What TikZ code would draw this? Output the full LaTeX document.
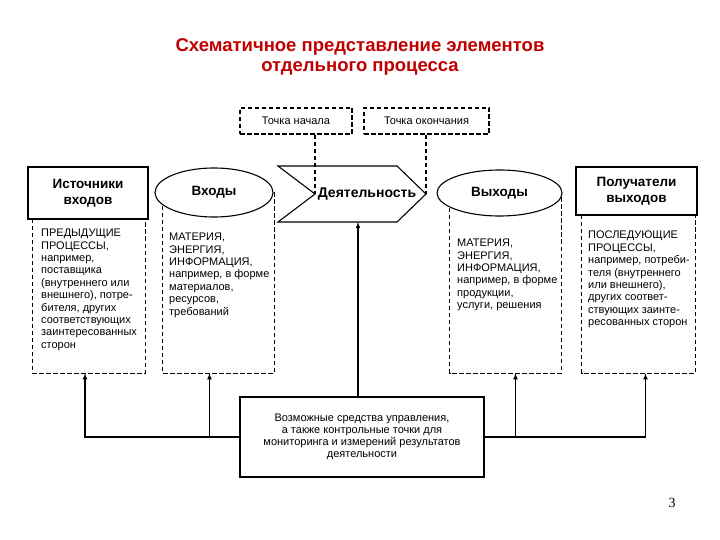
\documentclass[tikz,border=0pt]{standalone}
\usepackage{fontspec}
\setmainfont{Liberation Sans}
\newfontfamily\numfont{Liberation Serif}
\usetikzlibrary{shapes.geometric}
\definecolor{titlered}{RGB}{192,0,0}
\tikzset{
  dbox/.style={draw,line width=1.1pt,dash pattern=on 4.5pt off 2.5pt},
  colbox/.style={inner sep=0},
  head/.style={draw,line width=1.6pt,font=\bfseries\fontsize{13.5}{15.5}\selectfont,align=center,inner sep=0},
  oval/.style={ellipse,draw,line width=1.1pt,fill=white,font=\bfseries\fontsize{13.5}{15.5}\selectfont,inner sep=0},
  body/.style={anchor=north west,inner sep=0,align=left,font=\fontsize{11}{12.4}\selectfont},
  arr/.style={->,line width=1.1pt},
}
\begin{document}
\begin{tikzpicture}[x=1pt,y=-1pt,>=latex]
\useasboundingbox (0,0) rectangle (720,540);
% title
\node[text=titlered,font=\bfseries\fontsize{18.5}{20}\selectfont,align=center] (title) at (360,57)
  {Схематичное представление элементов\\отдельного процесса};
% start / end points
\node[dbox,minimum width=112,minimum height=26,font=\fontsize{11}{12}\selectfont] (start) at (296,121) {Точка начала};
\node[dbox,minimum width=125,minimum height=26,font=\fontsize{11}{12}\selectfont] (finish) at (426.5,121) {Точка окончания};
% activity
\coordinate (notch) at (315,194);
\coordinate (tip) at (426,194);
\coordinate (actbot) at (358,222);
\draw[line width=1.1pt] (278,166) -- (397,166) -- (tip) -- (397,222) -- (278,222) -- (notch) -- cycle;
\node[font=\bfseries\fontsize{14}{16}\selectfont] (act) at (367,194) {Деятельность};
\draw[dbox] (start.south -| notch) -- (notch);
\draw[dbox] (finish.south -| tip) -- (tip);
% columns
\node[colbox,minimum width=112,minimum height=154] (srccol) at (89,296) {};
\node[colbox,minimum width=111,minimum height=181] (incol) at (218.5,282.5) {};
\node[colbox,minimum width=111,minimum height=179] (outcol) at (505.5,283.5) {};
\node[colbox,minimum width=113,minimum height=158] (dstcol) at (638.5,294) {};
\foreach \c in {srccol,incol,outcol,dstcol}
  \draw[dbox] (\c.north west) -- (\c.south west) -- (\c.south east) -- (\c.north east);
% heads
\node[head,fill=white,minimum width=120,minimum height=52] (src) at (88,193) {Источники\\входов};
\node[oval,minimum width=118,minimum height=49] (in) at (214,192.5) {Входы};
\node[oval,minimum width=125,minimum height=46] (out) at (499.5,193) {Выходы};
\node[head,fill=white,minimum width=121,minimum height=48] (dst) at (636.5,191) {Получатели\\выходов};
% texts
\node[body] (srctext) at (41,229) {ПРЕДЫДУЩИЕ\\ПРОЦЕССЫ,\\например,\\поставщика\\(внутреннего или\\внешнего), потре-\\бителя, других\\соответствующих\\заинтересованных\\сторон};
\node[body] (intext) at (169,233) {МАТЕРИЯ,\\ЭНЕРГИЯ,\\ИНФОРМАЦИЯ,\\например, в форме\\материалов,\\ресурсов,\\требований};
\node[body] (outtext) at (457,239) {МАТЕРИЯ,\\ЭНЕРГИЯ,\\ИНФОРМАЦИЯ,\\например, в форме\\продукции,\\услуги, решения};
\node[body] (dsttext) at (588,231) {ПОСЛЕДУЮЩИЕ\\ПРОЦЕССЫ,\\например, потреби-\\теля (внутреннего\\или внешнего),\\других соответ-\\ствующих заинте-\\ресованных сторон};
% control
\node[draw,line width=1.4pt,minimum width=244,minimum height=80,align=center,font=\fontsize{11}{12}\selectfont] (ctrl) at (362,437)
  {Возможные средства управления,\\а также контрольные точки для\\мониторинга и измерений результатов\\деятельности};
\draw[arr] (ctrl.north -| actbot) -- (actbot);
\draw[arr] (ctrl.west) -| ([xshift=-4]srccol.south);
\draw[arr] (ctrl.west) -| ([xshift=-9]incol.south);
\draw[arr] (ctrl.east) -| ([xshift=10]outcol.south);
\draw[arr] (ctrl.east) -| ([xshift=7]dstcol.south);
% page number
\node[font=\numfont\fontsize{14}{16}\selectfont] (page) at (672,503) {3};
\end{tikzpicture}
\end{document}
